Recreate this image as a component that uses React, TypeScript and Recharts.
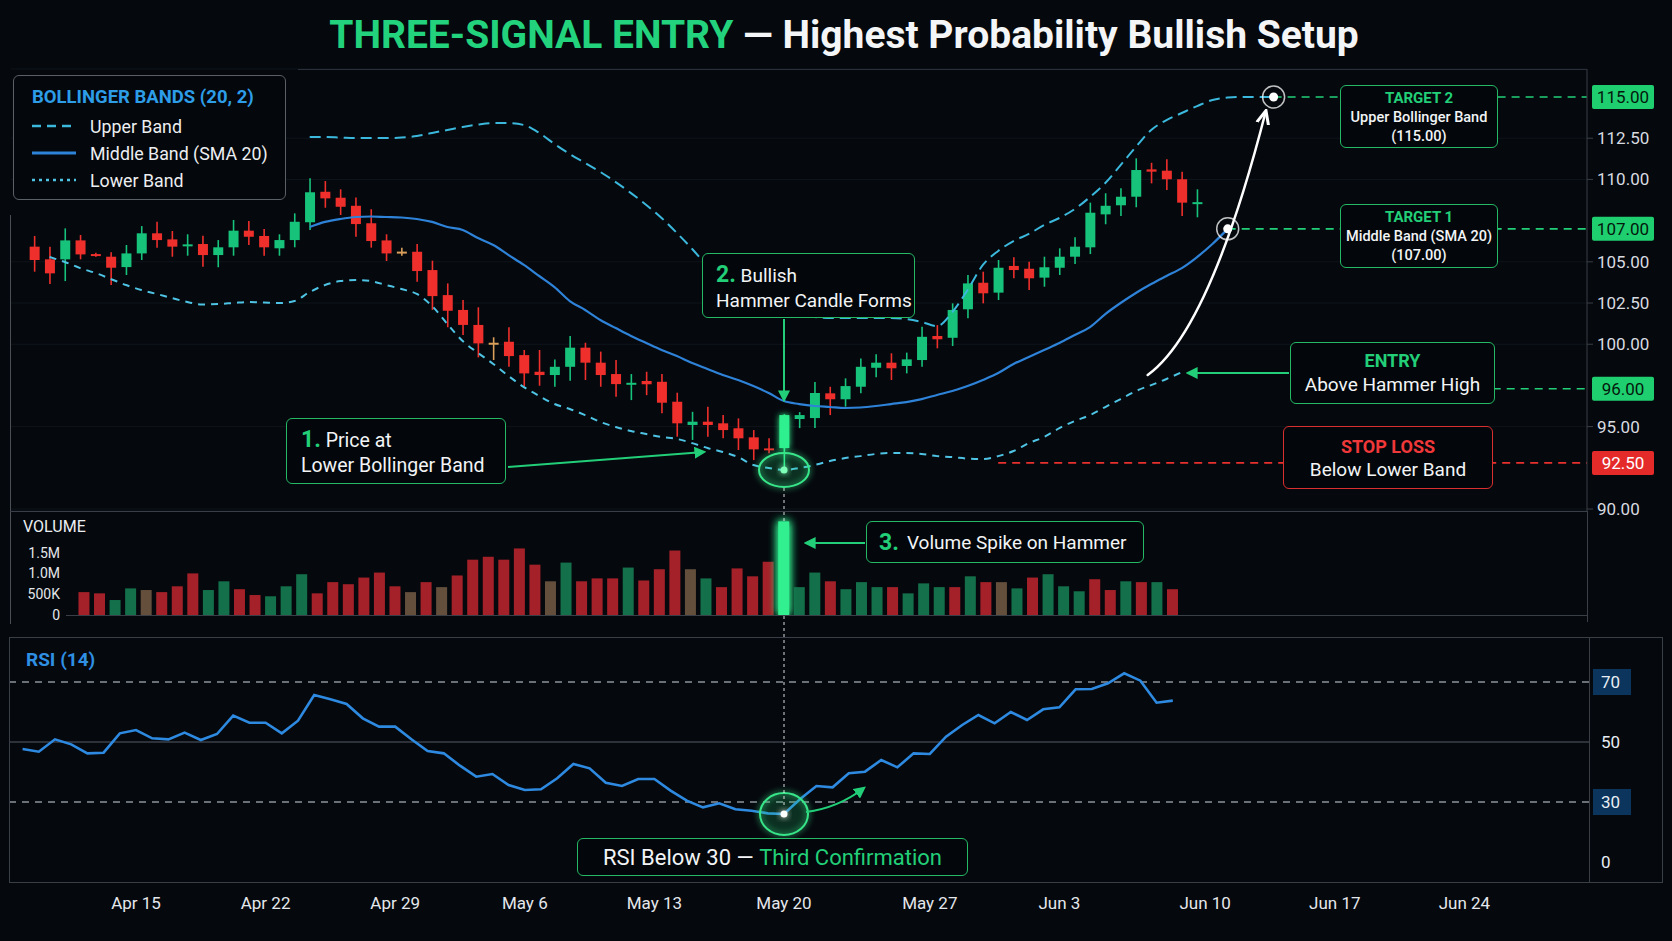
import React from "react";
import { Bar, CartesianGrid, ComposedChart, Line, ReferenceDot, ReferenceLine, XAxis, YAxis } from "recharts";

const W = 1672;
const H = 941;
const BG = "#05080d";
const GREEN = "#22cf78";
const RED = "#e8302e";
const UP = "#17c27b";
const DOWN = "#ee2f2c";
const FLAT = "#d9a05b";
const FONT = "Roboto, 'Noto Sans', Arial, sans-serif";
const HAMMER_PX = 784;
const RSI_TOP = 600;

// candles (one per session)
const opens = [105.92, 105.15, 105.15, 106.3, 105.47, 105.31, 104.68, 105.51, 106.73, 106.36,
  105.98, 106.08, 105.41, 105.88, 106.89, 106.57, 105.82, 106.32, 107.4, 109.25,
  108.89, 108.4, 107.34, 106.3, 105.62, 105.61, 104.5, 102.98, 102.08, 101.17,
  100.09, 100.15, 99.34, 98.33, 98.13, 98.63, 99.79, 98.88, 98.19, 97.58,
  97.77, 97.72, 96.51, 95.1, 95.3, 95.2, 94.9, 94.35, 93.68, 93.7,
  95.46, 95.52, 97.02, 96.66, 97.42, 98.57, 98.88, 98.68, 99.04, 100.5,
  100.39, 102.12, 103.73, 103.13, 104.75, 104.58, 104.04, 104.64, 105.31, 105.88,
  107.88, 108.43, 108.95, 110.61, 110.53, 110.01, 108.55];
const highs = [106.57, 105.92, 107.03, 106.63, 105.55, 105.58, 106.02, 107.17, 107.43, 106.87,
  106.67, 106.58, 106.32, 107.54, 107.48, 106.99, 106.67, 107.94, 110.07, 109.9,
  109.4, 108.91, 108.19, 106.67, 105.86, 106.08, 105.07, 103.69, 102.68, 102.24,
  100.42, 101.03, 99.65, 99.65, 99.08, 100.5, 100.09, 99.55, 99.04, 98.19,
  98.33, 98.19, 97.06, 95.9, 96.21, 95.7, 95.5, 94.79, 94.29, 95.75,
  95.88, 97.71, 97.42, 97.93, 99.14, 99.39, 99.45, 99.49, 101.06, 101.16,
  102.48, 104.2, 104.4, 105.11, 105.27, 105.01, 105.31, 105.82, 106.49, 108.59,
  109.16, 109.46, 111.28, 111.01, 111.22, 110.47, 109.4];
const lows = [104.4, 103.65, 103.83, 105.15, 105.3, 103.59, 104.2, 105.11, 105.86, 105.31,
  105.37, 104.7, 104.67, 105.37, 106.02, 105.37, 105.37, 105.88, 106.93, 108.28,
  107.84, 106.52, 105.86, 105.05, 105.37, 103.79, 102.08, 101.03, 100.56, 99.2,
  99.04, 98.63, 97.42, 97.48, 97.42, 97.78, 97.83, 97.42, 96.81, 96.61,
  96.91, 95.81, 94.39, 94.19, 94.39, 94.29, 93.58, 92.97, 93.38, 92.31,
  94.91, 94.91, 95.7, 96.21, 97.02, 97.99, 97.83, 98.23, 98.63, 99.75,
  99.89, 101.57, 102.48, 102.68, 104.0, 103.29, 103.49, 104.2, 104.87, 105.47,
  107.28, 107.78, 108.31, 109.76, 109.36, 107.78, 107.7];
const closes = [105.11, 104.3, 106.3, 105.45, 105.4, 104.64, 105.51, 106.73, 106.32, 105.92,
  106.06, 105.41, 105.88, 106.89, 106.52, 105.88, 106.32, 107.43, 109.22, 108.85,
  108.34, 107.29, 106.26, 105.51, 105.62, 104.44, 102.92, 102.03, 101.17, 100.05,
  100.09, 99.28, 98.23, 98.13, 98.63, 99.79, 98.88, 98.13, 97.58, 97.66,
  97.57, 96.45, 95.2, 95.3, 95.1, 94.79, 94.29, 93.62, 93.58, 95.7,
  95.7, 97.04, 96.66, 97.46, 98.63, 98.88, 98.54, 99.08, 100.45, 100.3,
  102.08, 103.69, 103.09, 104.64, 104.5, 104.0, 104.67, 105.31, 105.92, 107.98,
  108.4, 108.95, 110.57, 110.47, 110.01, 108.59, 108.62];
const HAMMER_CANDLE = 49;

// Bollinger bands (20, 2); upper/middle run on past the last candle to the targets
const upperBand = [null, null, null, null, null, null, null, null, null, null,
  null, null, null, null, null, null, null, null, 112.57, 112.57,
  112.54, 112.51, 112.51, 112.51, 112.54, 112.63, 112.82, 113.0, 113.18, 113.33,
  113.42, 113.42, 113.3, 112.82, 112.15, 111.54, 111.0, 110.45, 109.84, 109.17,
  108.45, 107.66, 106.75, 105.78, 104.75, 103.96, 103.29, 102.68, 102.26, 101.95,
  101.77, 101.65, 101.59, 101.59, 101.59, 101.59, 101.59, 101.53, 101.35, 101.1,
  101.95, 103.29, 104.81, 105.66, 106.26, 106.69, 107.23, 107.66, 108.2, 108.93,
  109.78, 110.87, 111.97, 113.0, 113.6, 114.03, 114.45, 114.82, 114.97, 115.0,
  115.0, 115.0];
const middleBand = [null, null, null, null, null, null, null, null, null, null,
  null, null, null, null, null, null, null, null, 107.11, 107.42,
  107.6, 107.72, 107.75, 107.72, 107.69, 107.6, 107.42, 107.11, 106.93, 106.44,
  106.02, 105.41, 104.81, 104.14, 103.47, 102.62, 102.08, 101.47, 100.98, 100.5,
  100.07, 99.65, 99.28, 98.86, 98.5, 98.13, 97.83, 97.46, 97.04, 96.55,
  96.37, 96.25, 96.19, 96.13, 96.16, 96.25, 96.37, 96.49, 96.67, 96.92,
  97.16, 97.46, 97.83, 98.25, 98.8, 99.22, 99.65, 100.07, 100.56, 101.04,
  101.83, 102.5, 103.11, 103.65, 104.14, 104.62, 105.29, 106.08, 107.0];
const lowerBand = [null, 105.29, 104.99, 104.62, 104.32, 103.96, 103.59, 103.29, 103.05, 102.8,
  102.56, 102.41, 102.44, 102.5, 102.56, 102.53, 102.5, 102.62, 103.17, 103.59,
  103.83, 103.9, 103.83, 103.59, 103.35, 103.05, 102.32, 101.23, 100.19, 99.47,
  98.8, 98.07, 97.4, 96.86, 96.37, 96.07, 95.7, 95.28, 94.98, 94.73,
  94.55, 94.37, 94.25, 94.0, 93.7, 93.46, 93.15, 92.67, 92.49, 92.37,
  92.49, 92.67, 92.91, 93.09, 93.21, 93.34, 93.4, 93.4, 93.34, 93.21,
  93.15, 93.06, 93.03, 93.21, 93.52, 94.0, 94.37, 94.91, 95.34, 95.7,
  96.19, 96.67, 97.16, 97.52, 97.89, 98.31];

// volume in millions; r = down, g = up, o = flat, s = hammer spike
const volume = [0.55, 0.52, 0.36, 0.64, 0.6, 0.55, 0.69, 1.0, 0.6, 0.81,
  0.62, 0.48, 0.45, 0.69, 0.98, 0.52, 0.79, 0.74, 0.9, 1.02,
  0.69, 0.55, 0.79, 0.67, 0.95, 1.33, 1.4, 1.33, 1.6, 1.21,
  0.81, 1.26, 0.81, 0.88, 0.88, 1.14, 0.83, 1.1, 1.55, 1.1,
  0.88, 0.67, 1.12, 0.93, 1.28, 2.25, 0.67, 1.02, 0.81, 0.62,
  0.79, 0.67, 0.67, 0.52, 0.76, 0.67, 0.67, 0.93, 0.79, 0.79,
  0.64, 0.9, 0.98, 0.69, 0.57, 0.86, 0.6, 0.81, 0.79, 0.79,
  0.62];
const volumeSide = ["r", "r", "g", "g", "o", "r", "r", "r", "g", "g",
  "r", "r", "g", "g", "g", "r", "r", "r", "r", "r",
  "r", "o", "r", "o", "r", "r", "r", "r", "r", "r",
  "o", "g", "r", "r", "r", "g", "r", "r", "r", "o",
  "g", "r", "r", "r", "r", "s", "g", "g", "r", "g",
  "g", "g", "r", "g", "g", "g", "r", "g", "r", "o",
  "g", "r", "g", "g", "g", "r", "r", "g", "r", "g",
  "r"];
const HAMMER_VOL = 45;

const rsi = [47.67, 46.78, 50.89, 49.22, 46.22, 46.44, 52.89, 54.0, 51.22, 50.89,
  53.11, 50.67, 52.67, 58.78, 56.44, 56.44, 52.89, 57.11, 65.67, 64.22,
  62.67, 57.89, 55.11, 55.11, 50.89, 47.0, 46.22, 42.11, 38.44, 39.33,
  35.67, 34.0, 34.22, 37.89, 42.67, 41.22, 36.44, 35.33, 37.67, 37.67,
  33.78, 30.44, 28.22, 29.56, 27.56, 27.11, 26.22, 26.0, 31.0, 35.33,
  34.89, 39.56, 40.11, 44.0, 41.56, 46.22, 46.0, 51.78, 55.67, 59.0,
  56.22, 60.0, 57.33, 60.89, 61.56, 67.56, 67.67, 69.56, 72.89, 70.44,
  63.11, 63.78];
const HAMMER_RSI = 47;

const priceTicks = [90, 95, 100, 102.5, 105, 110, 112.5];
const volumeTicks = [0, 0.5, 1.0, 1.5];
const rsiTicks = [0, 30, 50, 70];
const dateLabels = ["Apr 15", "Apr 22", "Apr 29", "May 6", "May 13", "May 20", "May 27", "Jun 3", "Jun 10", "Jun 17", "Jun 24"];
const dateTickAt = [7, 15, 23, 31, 39, 47, 56, 64, 73, 81, 89]; // RSI sample index for each label

// trade levels: where the line starts (candle index), where it sits, what the badge says
const levels = [
  { from: 81, y: 115, label: "115.00", bg: "#1fcf6f", fg: "#04170c", stroke: GREEN },
  { from: 78, y: 107, label: "107.00", bg: "#1fcf6f", fg: "#04170c", stroke: GREEN },
  { from: 88, y: 97.3, label: "96.00", bg: "#1fcf6f", fg: "#04170c", stroke: GREEN },
  { from: 63, y: 92.8, label: "92.50", bg: "#e52a2a", fg: "#ffffff", stroke: RED },
];

// layout: each panel is a separate chart, hammer lines up at HAMMER_PX
const domainFor = (h: number, step: number, left: number, right: number): [number, number] => [
  h - (HAMMER_PX - left) / step,
  h + (right - HAMMER_PX) / step,
];
const PRICE_STEP = 15.3;
const priceX = domainFor(HAMMER_CANDLE, PRICE_STEP, 11, 1587);
const PRICE_Y: [number, number] = [89.88, 116.7];
const volX = domainFor(HAMMER_VOL, 15.55, 66, 1587);
const rsiX = domainFor(HAMMER_RSI, 16.2, 9, 1589);

// pixel helpers for the overlay arrows only
const pxX = (i: number) => HAMMER_PX + (i - HAMMER_CANDLE) * PRICE_STEP;
const pxY = (v: number) => 69 + ((PRICE_Y[1] - v) / (PRICE_Y[1] - PRICE_Y[0])) * 442;

const candleRange = (d: any) => (d.open == null ? null : [d.low, d.high]);

function Candle(props: any) {
  const { x, y, width, height, payload } = props;
  if (!payload || payload.open == null) return null;
  const { open, high, low, close } = payload;
  const top = Math.min(y, y + height);
  const h = Math.abs(height);
  const span = high - low || 1;
  const py = (v: number) => top + ((high - v) / span) * h;
  const bodyTop = py(Math.max(open, close));
  const bodyBot = py(Math.min(open, close));
  const color = payload.hammer ? "#2ff08e" : close > open ? UP : close < open ? DOWN : FLAT;
  const cx = x + width / 2;
  return (
    <g filter={payload.hammer ? "url(#glow)" : undefined}>
      <line x1={cx} x2={cx} y1={top} y2={top + h} stroke={color} strokeWidth={1.6} />
      <rect x={x} y={bodyTop} width={width} height={Math.max(bodyBot - bodyTop, 2)} fill={color} />
    </g>
  );
}

const VOL_COLORS: Record<string, string> = { r: "#b3242b", g: "#157a4f", o: "#6b5640", s: "#33f090" };

function VolumeBar(props: any) {
  const { x, y, width, height, payload } = props;
  const side = payload.side;
  return (
    <rect
      x={x}
      y={y}
      width={width}
      height={height}
      fill={VOL_COLORS[side]}
      fillOpacity={side === "s" ? 1 : 0.92}
      filter={side === "s" ? "url(#glowStrong)" : undefined}
    />
  );
}

function Badge({ viewBox, text, bg, fg }: any) {
  if (!viewBox) return null;
  const x = viewBox.x + viewBox.width + 5;
  const y = viewBox.y;
  return (
    <g>
      <rect x={x} y={y - 12} width={62} height={24} rx={2} fill={bg} />
      <text x={x + 31} y={y} dy={6} textAnchor="middle" fontSize={17} fill={fg} fontFamily={FONT}>
        {text}
      </text>
    </g>
  );
}

function RsiTick(props: any) {
  const { x, y, payload } = props;
  const v = payload.value;
  if (v === 70 || v === 30) {
    return (
      <g>
        <rect x={x - 4} y={y - 13} width={38} height={26} fill="#0b355c" />
        <text x={x + 4} y={y} dy={6} fill="#e9eef4" fontSize={17} fontFamily={FONT}>
          {v}
        </text>
      </g>
    );
  }
  // the bottom label sits inside the panel frame
  return (
    <text x={x + 4} y={Math.min(y, 862 - RSI_TOP)} dy={6} fill="#e9eef4" fontSize={17} fontFamily={FONT}>
      {v}
    </text>
  );
}

function DateTick(props: any) {
  const { x, y, payload } = props;
  const label = dateLabels[dateTickAt.indexOf(payload.value)];
  return (
    <text x={x} y={y} dy={9} textAnchor="middle" fill="#e4e7eb" fontSize={17} fontFamily={FONT}>
      {label}
    </text>
  );
}

const Ring = (p: any) => (
  <g>
    <circle cx={p.cx} cy={p.cy} r={11} fill="none" stroke="#ffffff" strokeOpacity={0.75} strokeWidth={1.5} />
    <circle cx={p.cx} cy={p.cy} r={4.5} fill="#ffffff" />
  </g>
);

const GlowEllipse = (rx: number, ry: number, dot: string) => (p: any) => (
  <g>
    <ellipse cx={p.cx} cy={p.cy} rx={rx} ry={ry} fill="rgba(40,220,120,0.10)" stroke="#38e68a" strokeWidth={2} filter="url(#glow)" />
    <circle cx={p.cx} cy={p.cy} r={3.5} fill={dot} filter="url(#glow)" />
  </g>
);

const box = (left: number, top: number, width: number, height: number, border: string): React.CSSProperties => ({
  position: "absolute",
  left,
  top,
  width,
  height,
  boxSizing: "border-box",
  border: `1.5px solid ${border}`,
  borderRadius: 6,
  background: "#03070b",
  color: "#f2f4f6",
  fontFamily: FONT,
});

export default function App() {
  const priceRows = upperBand.map((u, i) => ({
    i,
    open: i < opens.length ? opens[i] : null,
    high: i < highs.length ? highs[i] : null,
    low: i < lows.length ? lows[i] : null,
    close: i < closes.length ? closes[i] : null,
    upper: u,
    middle: i < middleBand.length ? middleBand[i] : null,
    lower: i < lowerBand.length ? lowerBand[i] : null,
    hammer: i === HAMMER_CANDLE,
  }));
  const volRows = volume.map((v, i) => ({ i, v, side: volumeSide[i] }));
  const rsiRows = rsi.map((r, i) => ({ i, r }));

  const r1 = { x: pxX(78), y: pxY(107) };
  const r2 = { x: pxX(81), y: pxY(115) };

  return (
    <div style={{ position: "relative", width: W, height: H, background: BG, overflow: "hidden", fontFamily: FONT }}>
      <style>{`html,body{margin:0;padding:0;background:${BG};}`}</style>

      {/* price panel */}
      <div style={{ position: "absolute", left: 0, top: 0 }}>
        <ComposedChart width={W} height={520} data={priceRows} margin={{ top: 69, right: 0, bottom: 9, left: 11 }}>
          <CartesianGrid vertical={false} stroke="#0f151c" />
          <XAxis type="number" dataKey="i" domain={priceX} allowDataOverflow hide />
          <YAxis
            orientation="right"
            width={85}
            domain={PRICE_Y}
            allowDataOverflow
            ticks={priceTicks}
            interval={0}
            tickFormatter={(v: number) => v.toFixed(2)}
            tick={{ fill: "#d8dbe0", fontSize: 17, fontFamily: FONT }}
            tickSize={6}
            tickMargin={4}
            stroke="#3a3f47"
          />
          <Line type="monotone" dataKey="upper" stroke="#3bb8dc" strokeWidth={2} strokeDasharray="11 6" dot={false} isAnimationActive={false} />
          <Line type="monotone" dataKey="middle" stroke="#2e83d8" strokeWidth={2.2} dot={false} isAnimationActive={false} />
          <Line type="monotone" dataKey="lower" stroke="#4ec3e3" strokeWidth={2} strokeDasharray="7 6" dot={false} isAnimationActive={false} />
          <Bar dataKey={candleRange} barSize={10} shape={(p: any) => <Candle {...p} />} isAnimationActive={false} />
          {levels.map((l) => (
            <ReferenceLine
              key={l.label}
              segment={[{ x: l.from, y: l.y }, { x: priceX[1], y: l.y }]}
              stroke={l.stroke}
              strokeWidth={1.6}
              strokeDasharray="8 6"
              ifOverflow="visible"
              label={(p: any) => <Badge viewBox={p.viewBox} text={l.label} bg={l.bg} fg={l.fg} />}
            />
          ))}
          <ReferenceDot x={78} y={107} shape={Ring} />
          <ReferenceDot x={81} y={115} shape={Ring} />
          <ReferenceDot x={HAMMER_CANDLE} y={92.37} shape={GlowEllipse(25, 17, "#7dffb8")} />
        </ComposedChart>
      </div>

      {/* volume panel */}
      <div style={{ position: "absolute", left: 0, top: 505 }}>
        <ComposedChart width={W} height={122} data={volRows} margin={{ top: 6, right: 85, bottom: 12, left: 11 }}>
          <XAxis type="number" dataKey="i" domain={volX} allowDataOverflow hide />
          <YAxis
            width={55}
            domain={[0, 2.5]}
            allowDataOverflow
            ticks={volumeTicks}
            interval={0}
            tickFormatter={(v: number) => (v === 0 ? "0" : v < 1 ? `${v * 1000}K` : `${v.toFixed(1)}M`)}
            tick={{ fill: "#e3e6ea", fontSize: 14, fontFamily: FONT }}
            tickLine={false}
            axisLine={false}
            tickSize={4}
            tickMargin={2}
          />
          <Bar dataKey="v" barSize={11} shape={(p: any) => <VolumeBar {...p} />} isAnimationActive={false} />
        </ComposedChart>
      </div>

      {/* RSI panel */}
      <div style={{ position: "absolute", left: 0, top: RSI_TOP }}>
        <ComposedChart width={W} height={340} data={rsiRows} margin={{ top: 37, right: 9, bottom: 18, left: 9 }}>
          <XAxis
            type="number"
            dataKey="i"
            domain={rsiX}
            allowDataOverflow
            ticks={dateTickAt}
            interval={0}
            tick={(p: any) => <DateTick {...p} />}
            axisLine={false}
            tickLine={false}
            height={30}
          />
          <YAxis
            orientation="right"
            width={74}
            domain={[0, 85]}
            allowDataOverflow
            ticks={rsiTicks}
            interval={0}
            tick={(p: any) => <RsiTick {...p} />}
            axisLine={false}
            tickLine={false}
          />
          <ReferenceLine y={70} stroke="#8b929c" strokeDasharray="7 6" strokeWidth={1.5} />
          <ReferenceLine y={50} stroke="#3b414a" strokeWidth={1.5} />
          <ReferenceLine y={30} stroke="#8b929c" strokeDasharray="7 6" strokeWidth={1.5} />
          <Line type="linear" dataKey="r" stroke="#2e8ae0" strokeWidth={2.6} dot={false} isAnimationActive={false} />
          <ReferenceDot x={HAMMER_RSI} y={26} shape={GlowEllipse(24, 21, "#ffffff")} />
        </ComposedChart>
      </div>

      {/* frames, guide and arrows */}
      <svg width={W} height={H} style={{ position: "absolute", left: 0, top: 0, pointerEvents: "none" }}>
        <defs>
          <filter id="glow" x="-60%" y="-60%" width="220%" height="220%">
            <feGaussianBlur stdDeviation="3" result="b" />
            <feMerge>
              <feMergeNode in="b" />
              <feMergeNode in="SourceGraphic" />
            </feMerge>
          </filter>
          <filter id="glowStrong" x="-150%" y="-20%" width="400%" height="140%">
            <feGaussianBlur stdDeviation="5" result="b" />
            <feMerge>
              <feMergeNode in="b" />
              <feMergeNode in="b" />
              <feMergeNode in="SourceGraphic" />
            </feMerge>
          </filter>
          <marker id="ahG" viewBox="0 0 10 10" refX="8" refY="5" markerWidth="6" markerHeight="6" orient="auto">
            <path d="M0,0 L10,5 L0,10 z" fill={GREEN} />
          </marker>
          <marker id="ahW" viewBox="0 0 10 10" refX="8" refY="5" markerWidth="6" markerHeight="6" orient="auto">
            <path d="M0,1 L9,5 L0,9" fill="none" stroke="#ffffff" strokeWidth={2} />
          </marker>
        </defs>
        <line x1={298} y1={69.5} x2={1587} y2={69.5} stroke="#2b3038" />
        <line x1={10.5} y1={215} x2={10.5} y2={624} stroke="#4a4f57" />
        <line x1={10} y1={511.5} x2={1587} y2={511.5} stroke="#3a3f47" />
        <line x1={66} y1={615.5} x2={1587} y2={615.5} stroke="#3a3f47" />
        <line x1={1587.5} y1={511} x2={1587.5} y2={622} stroke="#3a3f47" />
        <rect x={9.5} y={637.5} width={1653} height={245} fill="none" stroke="#3a3f47" />
        <line x1={1589.5} y1={637.5} x2={1589.5} y2={882.5} stroke="#3a3f47" />

        <line x1={HAMMER_PX} y1={488} x2={HAMMER_PX} y2={521} stroke="#ffffff" strokeOpacity={0.85} strokeDasharray="3 3" />
        <line x1={HAMMER_PX} y1={616} x2={HAMMER_PX} y2={806} stroke="#ffffff" strokeOpacity={0.85} strokeDasharray="3 3" />

        <line x1={508} y1={467} x2={704} y2={452} stroke={GREEN} strokeWidth={2} markerEnd="url(#ahG)" />
        <line x1={HAMMER_PX} y1={319} x2={HAMMER_PX} y2={400} stroke={GREEN} strokeWidth={2} markerEnd="url(#ahG)" />
        <line x1={865} y1={543} x2={806} y2={543} stroke={GREEN} strokeWidth={2} markerEnd="url(#ahG)" />
        <line x1={1289} y1={373} x2={1188} y2={373} stroke={GREEN} strokeWidth={2} markerEnd="url(#ahG)" />
        <path d={`M${HAMMER_PX + 22},812 Q${HAMMER_PX + 54},808 ${HAMMER_PX + 80},788`} fill="none" stroke={GREEN} strokeWidth={2} markerEnd="url(#ahG)" />
        <path
          d={`M${r1.x - 80},375 Q${r1.x - 18},330 ${r2.x - 8},${r2.y + 15}`}
          fill="none"
          stroke="#ffffff"
          strokeWidth={2.5}
          strokeLinecap="round"
          markerEnd="url(#ahW)"
        />
      </svg>

      {/* title */}
      <div style={{ position: "absolute", left: 8, top: 12, width: W, textAlign: "center", fontSize: 39, fontWeight: 700, lineHeight: "46px", color: "#f4f5f6" }}>
        <span style={{ color: "#23d27c" }}>THREE-SIGNAL ENTRY</span> — Highest Probability Bullish Setup
      </div>

      {/* legend */}
      <div style={{ ...box(13, 75, 273, 125, "#5b6068"), background: "#04070b" }}>
        <div style={{ position: "absolute", left: 18, top: 10, lineHeight: "22px", fontSize: 18.5, fontWeight: 700, color: "#2d9de8" }}>
          BOLLINGER BANDS (20, 2)
        </div>
        {[
          { t: "Upper Band", dash: "9 6", color: "#3bb8dc", w: 2.5 },
          { t: "Middle Band (SMA 20)", dash: "", color: "#2e83d8", w: 3 },
          { t: "Lower Band", dash: "3 4", color: "#4ec3e3", w: 2.5 },
        ].map((row, k) => (
          <div key={row.t} style={{ position: "absolute", left: 18, top: 39 + k * 27, height: 22, display: "flex", alignItems: "center" }}>
            <svg width={44} height={6}>
              <line x1={0} y1={3} x2={44} y2={3} stroke={row.color} strokeWidth={row.w} strokeDasharray={row.dash || undefined} />
            </svg>
            <span style={{ marginLeft: 14, fontSize: 17.8, color: "#eceef1" }}>{row.t}</span>
          </div>
        ))}
      </div>

      {/* callouts */}
      <div style={{ ...box(286, 418, 220, 66, "#25b865"), paddingLeft: 14, paddingTop: 8, lineHeight: "25px", fontSize: 19.5 }}>
        <div>
          <span style={{ color: GREEN, fontWeight: 700, fontSize: 23 }}>1.</span> Price at
        </div>
        <div>Lower Bollinger Band</div>
      </div>
      <div style={{ ...box(702, 253, 213, 65, "#25b865"), paddingLeft: 13, paddingTop: 8, lineHeight: "25px", fontSize: 19 }}>
        <div>
          <span style={{ color: GREEN, fontWeight: 700, fontSize: 23 }}>2.</span> Bullish
        </div>
        <div>Hammer Candle Forms</div>
      </div>
      <div style={{ ...box(866, 521, 278, 42, "#25b865"), paddingLeft: 12, display: "flex", alignItems: "center", fontSize: 19 }}>
        <span style={{ color: GREEN, fontWeight: 700, fontSize: 23, marginRight: 8 }}>3.</span> Volume Spike on Hammer
      </div>
      <div style={{ ...box(1340, 85, 158, 63, "#25b865"), paddingTop: 3, textAlign: "center", lineHeight: "19px", fontSize: 14.5, fontWeight: 500 }}>
        <div style={{ color: GREEN, fontWeight: 700, fontSize: 15 }}>TARGET 2</div>
        <div>Upper Bollinger Band</div>
        <div>(115.00)</div>
      </div>
      <div style={{ ...box(1340, 204, 158, 64, "#25b865"), paddingTop: 3, textAlign: "center", lineHeight: "19px", fontSize: 14.5, fontWeight: 500 }}>
        <div style={{ color: GREEN, fontWeight: 700, fontSize: 15 }}>TARGET 1</div>
        <div>Middle Band (SMA 20)</div>
        <div>(107.00)</div>
      </div>
      <div style={{ ...box(1290, 342, 205, 62, "#25b865"), paddingTop: 6, textAlign: "center", lineHeight: "24px", fontSize: 19 }}>
        <div style={{ color: GREEN, fontWeight: 700, fontSize: 18 }}>ENTRY</div>
        <div>Above Hammer High</div>
      </div>
      <div style={{ ...box(1283, 426, 210, 63, "#d92f2f"), paddingTop: 8, textAlign: "center", lineHeight: "23px", fontSize: 19 }}>
        <div style={{ color: "#f0383a", fontWeight: 700, fontSize: 18 }}>STOP LOSS</div>
        <div>Below Lower Band</div>
      </div>
      <div style={{ ...box(577, 838, 391, 38, "#25b865"), display: "flex", alignItems: "center", justifyContent: "center", fontSize: 22 }}>
        RSI Below 30 —&nbsp;<span style={{ color: GREEN }}>Third Confirmation</span>
      </div>

      {/* panel titles */}
      <div style={{ position: "absolute", left: 23, top: 517, lineHeight: "20px", fontSize: 16, color: "#eceff2" }}>VOLUME</div>
      <div style={{ position: "absolute", left: 26, top: 649, lineHeight: "22px", fontSize: 19, fontWeight: 700, color: "#2f8fe3" }}>RSI (14)</div>
    </div>
  );
}
